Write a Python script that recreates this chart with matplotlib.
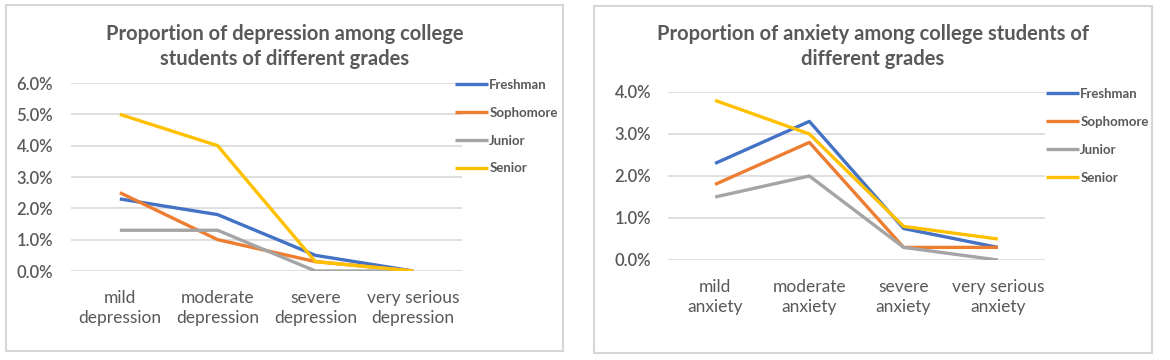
import matplotlib.pyplot as plt
from matplotlib.patches import Rectangle
from matplotlib.ticker import PercentFormatter

plt.rcParams['font.family'] = ['Lato', 'DejaVu Sans']

# data
grades = ['Freshman', 'Sophomore', 'Junior', 'Senior']
colors = ['#4472C4', '#ED7D31', '#A5A5A5', '#FFC000']

dep_labels = ['mild\ndepression', 'moderate\ndepression', 'severe\ndepression', 'very serious\ndepression']
dep_freshman = [0.023, 0.018, 0.005, 0.0]
dep_sophomore = [0.025, 0.010, 0.003, 0.0]
dep_junior = [0.013, 0.013, 0.0, 0.0]
dep_senior = [0.050, 0.040, 0.003, 0.0]

anx_labels = ['mild\nanxiety', 'moderate\nanxiety', 'severe\nanxiety', 'very serious\nanxiety']
anx_freshman = [0.023, 0.033, 0.0075, 0.003]
anx_sophomore = [0.018, 0.028, 0.003, 0.003]
anx_junior = [0.015, 0.020, 0.003, 0.0]
anx_senior = [0.038, 0.030, 0.008, 0.005]

W, H = 1170, 360
fig = plt.figure(figsize=(W / 100, H / 100), dpi=100)
txt = '#595959'


def px(x0, y0, x1, y1):
    # pixel box (top-left origin) -> figure fraction
    return [x0 / W, 1 - y1 / H, (x1 - x0) / W, (y1 - y0) / H]


def panel(box, ax_box, title, labels, series, ymax, yticks, ypad, leg_xy):
    r = Rectangle((box[0] / W, 1 - box[3] / H), (box[2] - box[0]) / W, (box[3] - box[1]) / H,
                  transform=fig.transFigure, fill=False, edgecolor='#D6D6D6', lw=1.5)
    fig.patches.append(r)
    ax = fig.add_axes(px(*ax_box))
    x = range(len(labels))
    for name, vals, c in zip(grades, series, colors):
        ax.plot(x, vals, color=c, lw=2.4, label=name, solid_capstyle='butt')
    ax.set_xlim(-0.5, len(labels) - 0.5)
    ax.set_ylim(0, ymax)
    ax.set_yticks(yticks)
    ax.yaxis.set_major_formatter(PercentFormatter(xmax=1, decimals=1))
    ax.set_xticks(list(x))
    ax.set_xticklabels(labels, linespacing=1.3)
    ax.grid(axis='y', color='#D9D9D9', lw=1.2)
    ax.set_axisbelow(True)
    for s in ax.spines.values():
        s.set_visible(False)
    ax.tick_params(axis='both', length=0, colors=txt)
    ax.tick_params(axis='y', labelsize=12, pad=ypad)
    ax.tick_params(axis='x', labelsize=12.5, pad=13.5)
    for t in ax.get_yticklabels():
        t.set_fontweight('semibold')
    fig.text((box[0] + box[2]) / 2 / W, 1 - 46.5 / H, title, ha='center', va='center',
             fontsize=14.5, fontweight='bold', color=txt, linespacing=1.3)
    ax.legend(loc='upper left', bbox_to_anchor=(leg_xy[0] / W, 1 - leg_xy[1] / H),
              bbox_transform=fig.transFigure, frameon=False,
              prop={'weight': 'bold', 'size': 9.5}, labelcolor=txt,
              handlelength=2.5, handletextpad=0.1, labelspacing=1.2,
              borderpad=0, borderaxespad=0)
    return ax


panel((6, 5, 563, 351), (71, 83, 462, 271),
      'Proportion of depression among college\nstudents of different grades',
      dep_labels, [dep_freshman, dep_sophomore, dep_junior, dep_senior],
      0.06, [0, 0.01, 0.02, 0.03, 0.04, 0.05, 0.06], 13, (455, 79))

panel((594, 6, 1152, 353), (668, 92, 1045, 260),
      'Proportion of anxiety among college students of\ndifferent grades',
      anx_labels, [anx_freshman, anx_sophomore, anx_junior, anx_senior],
      0.04, [0, 0.01, 0.02, 0.03, 0.04], 12, (1046, 88))

fig.savefig('out.png', dpi=100, facecolor='white')
